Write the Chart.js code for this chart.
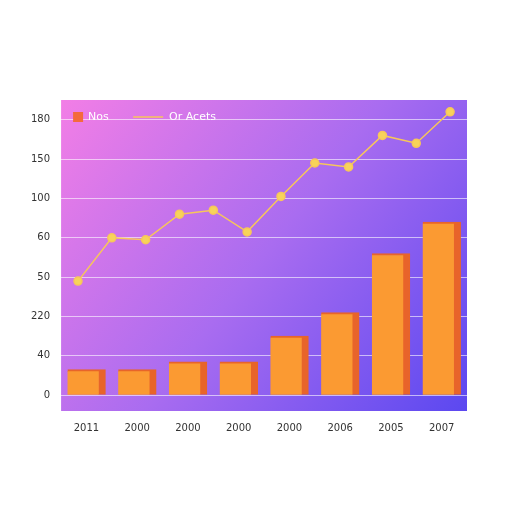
<!DOCTYPE html>
<html><head><meta charset="utf-8">
<script src="https://cdn.jsdelivr.net/npm/chart.js@4/dist/chart.umd.min.js"></script>
<style>html,body{margin:0;background:#fff}#w{width:512px;height:512px}</style>
</head><body><div id="w"><canvas id="c"></canvas></div>
<script>
const categories=["2011","2000","2000","2000","2000","2006","2005","2007"];
const barValues=[0.65,0.65,0.85,0.85,1.5,2.1,3.6,4.4];
const linePointLabels=["a","b","c","d","e","f","g","h","i","j","k","l"];
const lineValues=[2.9,4.0,3.95,4.6,4.7,4.15,5.05,5.9,5.8,6.6,6.4,7.2];
const yTickLabels=["0","40","220","50","60","100","150","180"];
const bg={id:'bg',beforeDraw(ch){const a=ch.chartArea,x=ch.ctx;const g=x.createLinearGradient(a.left,a.top,a.right,a.bottom);g.addColorStop(0,'#f27ee6');g.addColorStop(0.5,'#a96cf0');g.addColorStop(1,'#5b48f0');x.fillStyle=g;x.fillRect(a.left,a.top,a.right-a.left,a.bottom-a.top);}};
const leg={id:'leg',afterDraw(ch){const a=ch.chartArea,x=ch.ctx;const y=a.top+17;x.save();
x.fillStyle='#f46a3c';x.fillRect(a.left+12,y-5,10,10);
x.strokeStyle='#f7c65a';x.lineWidth=1.5;x.beginPath();x.moveTo(a.left+72,y);x.lineTo(a.left+102,y);x.stroke();
x.fillStyle='#fff';x.font='11px DejaVu Sans';x.textBaseline='middle';
x.fillText(ch.data.datasets[0].label,a.left+27,y);x.fillText(ch.data.datasets[1].label,a.left+108,y);x.restore();}};
new Chart(document.getElementById('c'),{
data:{labels:categories,datasets:[
{type:'bar',label:'Nos',data:barValues,backgroundColor:'#fb9a32',borderColor:'#e8642a',borderWidth:{right:7,top:2},barThickness:38,grouped:false,order:2},
{type:'line',label:'Or Acets',data:lineValues,xAxisID:'x2',borderColor:'#f7c65a',backgroundColor:'#f7d35a',pointRadius:4,borderWidth:1.5,tension:0,order:1}
]},
plugins:[bg,leg],
options:{responsive:true,maintainAspectRatio:false,animation:false,
layout:{padding:{left:28,right:45,top:100,bottom:75}},
plugins:{legend:{display:false},tooltip:{enabled:false}},
scales:{
x:{offset:true,grid:{display:false},border:{display:false},ticks:{color:'#333',font:{family:'DejaVu Sans',size:10}}},
x2:{labels:linePointLabels,display:false,offset:true},
y:{min:-0.4,max:7.5,grid:{color:'rgba(255,255,255,0.6)'},border:{display:false},
afterBuildTicks:(s)=>{s.ticks=yTickLabels.map((_,i)=>({value:i}));},
ticks:{color:'#333',font:{family:'DejaVu Sans',size:10},callback:(v)=>yTickLabels[v]??''}}
}}});
</script></body></html>
